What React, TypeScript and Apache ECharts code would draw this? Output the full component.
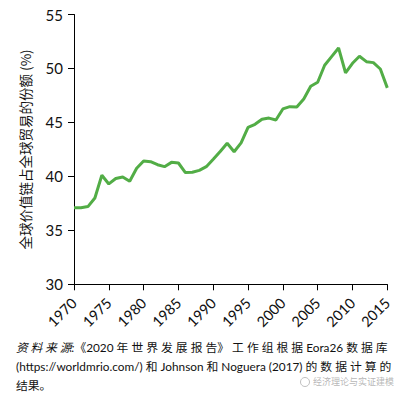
import React, { useEffect, useRef } from "react";
import * as echarts from "echarts";

const years = [
  1970, 1971, 1972, 1973, 1974, 1975, 1976, 1977, 1978, 1979,
  1980, 1981, 1982, 1983, 1984, 1985, 1986, 1987, 1988, 1989,
  1990, 1991, 1992, 1993, 1994, 1995, 1996, 1997, 1998, 1999,
  2000, 2001, 2002, 2003, 2004, 2005, 2006, 2007, 2008, 2009,
  2010, 2011, 2012, 2013, 2014, 2015,
];
const gvcShare = [
  37.1, 37.1, 37.2, 38.0, 40.1, 39.3, 39.8, 39.95, 39.55, 40.75,
  41.43, 41.36, 41.08, 40.9, 41.3, 41.24, 40.35, 40.38, 40.56, 40.9,
  41.58, 42.3, 43.07, 42.28, 43.1, 44.55, 44.83, 45.3, 45.4, 45.23,
  46.25, 46.46, 46.43, 47.17, 48.35, 48.72, 50.3, 51.1, 51.9, 49.6,
  50.48, 51.13, 50.63, 50.54, 49.95, 48.2,
];
const yTicks = [30, 35, 40, 45, 50, 55];
const yAxisTitle = "全球价值链占全球贸易的份额 (%)";
const captionSourceLabel = "资 料 来 源:";
const captionLine1 = "《2020 年 世 界 发 展 报 告》 工 作 组 根 据 Eora26 数 据 库";
const captionLine2 = "(https://worldmrio.com/) 和 Johnson 和 Noguera (2017) 的 数 据 计 算 的";
const captionLine3 = "结果。";
const watermark = "经济理论与实证建模";

export default function App() {
  const ref = useRef<HTMLDivElement>(null);
  useEffect(() => {
    if (!ref.current) return;
    const chart = echarts.init(ref.current, null, { renderer: "svg" });
    const font = "Lato, 'Noto Sans CJK SC', sans-serif";
    const capFont = "11.8px Lato, 'Noto Sans CJK SC', sans-serif";
    chart.setOption({
      animation: false,
      backgroundColor: "#ffffff",
      grid: { left: 74, right: 14.7, top: 14.5, bottom: 112.7, containLabel: false },
      xAxis: {
        type: "value",
        min: 1970,
        max: 2015,
        interval: 5,
        axisLine: { show: true, lineStyle: { color: "#000", width: 1 } },
        axisTick: { show: true, length: 6, lineStyle: { color: "#000" } },
        axisLabel: {
          rotate: 45,
          fontSize: 14.5,
          color: "#111",
          fontFamily: font,
          margin: 16,
          formatter: (v: number) => String(v),
        },
        splitLine: { show: false },
      },
      yAxis: {
        type: "value",
        min: yTicks[0],
        max: yTicks[yTicks.length - 1],
        interval: 5,
        name: yAxisTitle,
        nameLocation: "middle",
        nameRotate: 90,
        nameGap: 42,
        nameTextStyle: { fontSize: 13.5, color: "#111", fontFamily: "'Noto Sans CJK SC', sans-serif" },
        axisLine: { show: true, lineStyle: { color: "#000", width: 1 } },
        axisTick: { show: true, length: 6, lineStyle: { color: "#000" } },
        axisLabel: { fontSize: 15, color: "#111", fontFamily: font, margin: 11 },
        splitLine: { show: false },
      },
      series: [
        {
          type: "line",
          data: years.map((y, i) => [y, gvcShare[i]]),
          showSymbol: false,
          lineStyle: { color: "#52ad46", width: 3 },
        },
      ],
      graphic: [
        {
          type: "text",
          left: 16,
          top: 342,
          style: {
            text: "{i|" + captionSourceLabel + "}" + captionLine1,
            font: capFont,
            fill: "#111",
            rich: {
              i: { fontStyle: "italic", fontSize: 11.8, fontFamily: "Lato, 'Noto Sans CJK SC', sans-serif", fill: "#111" },
            },
          },
        },
        {
          type: "text",
          left: 16,
          top: 361,
          style: { text: captionLine2, font: capFont, fill: "#111" },
        },
        {
          type: "text",
          left: 16,
          top: 380,
          style: { text: captionLine3, font: capFont, fill: "#111" },
        },
        {
          type: "circle",
          shape: { cx: 305, cy: 382, r: 4.5 },
          style: { fill: "none", stroke: "rgba(150,150,150,0.6)", lineWidth: 1 },
        },
        {
          type: "text",
          left: 313,
          top: 377,
          style: { text: watermark, font: "9px 'Noto Sans CJK SC', sans-serif", fill: "rgba(150,150,150,0.7)" },
        },
      ],
    });
    return () => chart.dispose();
  }, []);
  return (
    <div
      ref={ref}
      style={{ position: "absolute", left: 0, top: 0, width: 402, height: 397 }}
    />
  );
}
